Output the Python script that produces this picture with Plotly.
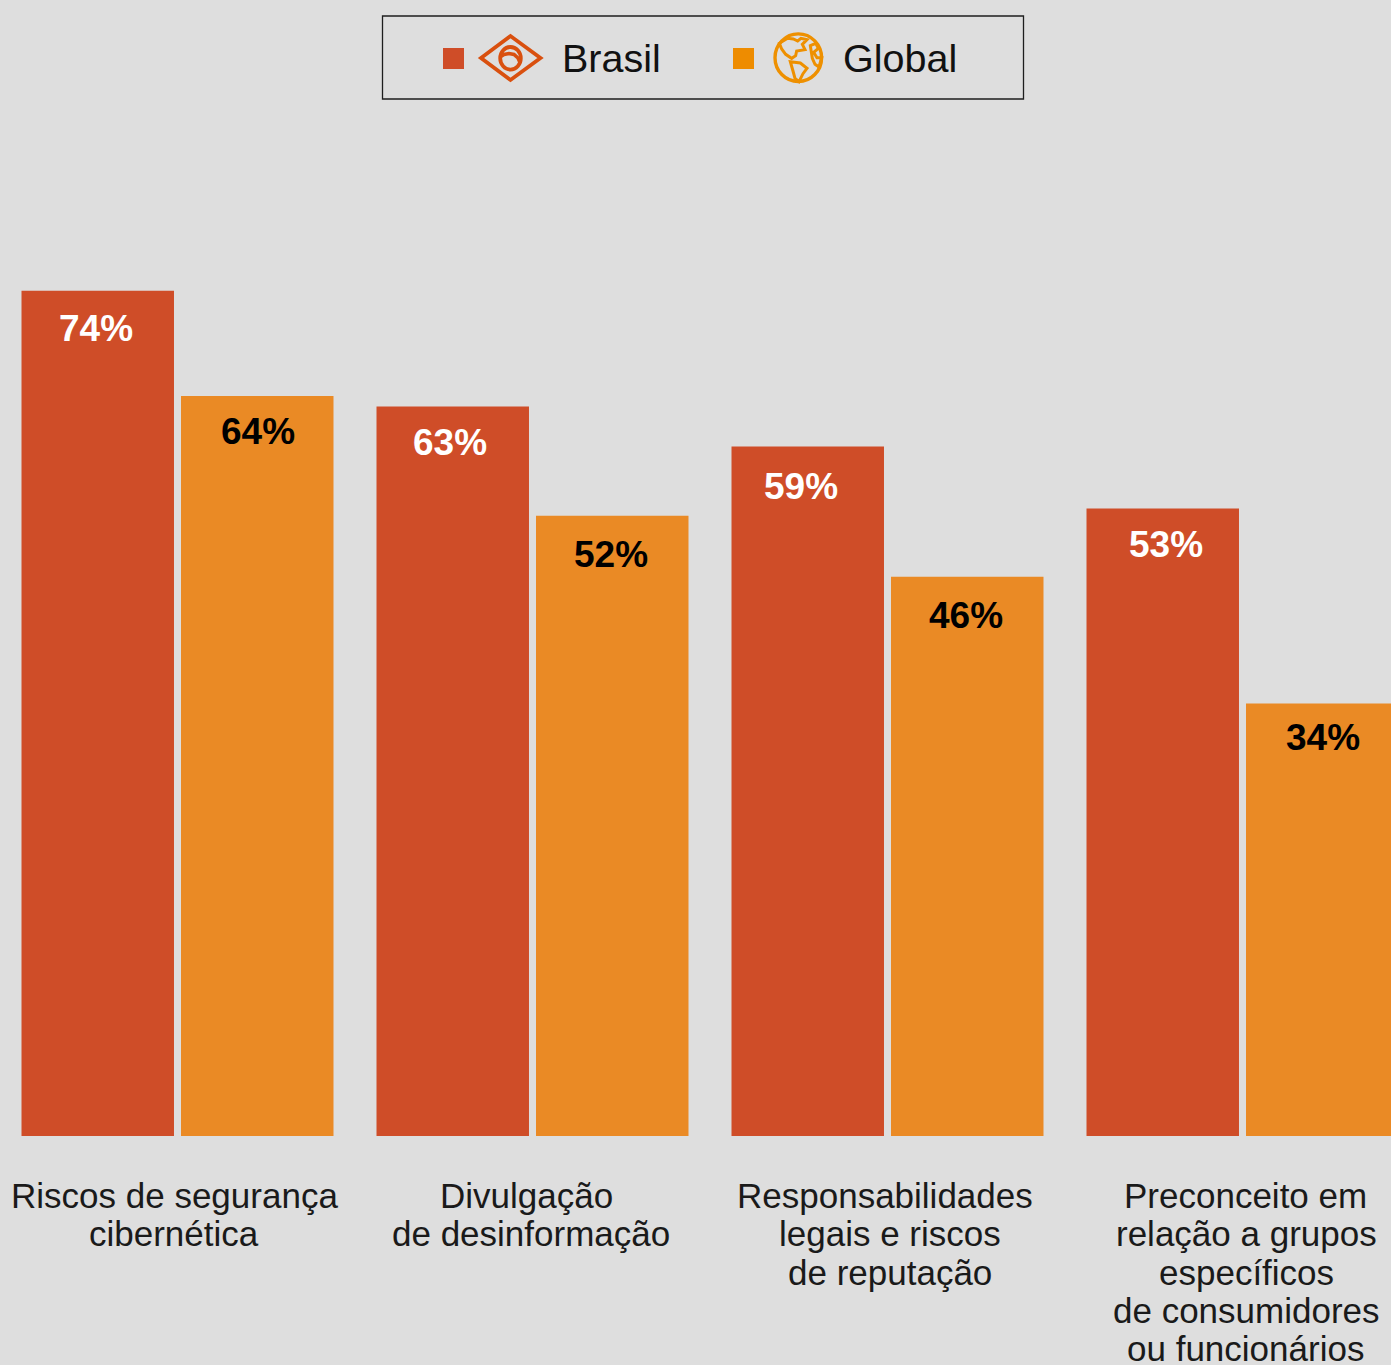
import plotly.graph_objects as go

# ---- data ----
category_lines = [
    ["Riscos de segurança", "cibernética"],
    ["Divulgação", "de desinformação"],
    ["Responsabilidades", "legais e riscos", "de reputação"],
    ["Preconceito em", "relação a grupos", "específicos", "de consumidores", "ou funcionários"],
]
brasil = [74.0, 62.8, 58.9, 52.9]
global_ = [63.8, 52.2, 46.3, 34.0]
series_names = ["Brasil", "Global"]

# ---- style / layout ----
W, H = 1391, 1365
BASE_PX = 1136
AXIS_FLOOR = -7.9          # the source's value axis does not start at zero
PX_PER_PCT = 10.32
TOP_VAL = AXIS_FLOOR + BASE_PX / PX_PER_PCT
BG = "#DEDEDE"
RED, ORANGE = "#CF4D28", "#EA8A25"
FONT = "Liberation Sans"
STEP = 355.0
X0 = 177.5
idx = list(range(len(category_lines)))

def px(x):
    return x / W
def py(y):
    return 1 - y / H

fig = go.Figure()
for vals, col, name in ((brasil, RED, series_names[0]), (global_, ORANGE, series_names[1])):
    fig.add_bar(x=idx, y=[v - AXIS_FLOOR for v in vals], base=[AXIS_FLOOR] * len(vals),
                marker=dict(color=col, line=dict(width=0)), name=name, showlegend=False, hoverinfo="skip")

ann = []
# value labels
nudges_b = [(-2, 38), (-3, 36.5), (-7, 40), (3, 35.5)]
nudges_g = [(1, 35.5), (-1, 39), (-1, 39), (1, 34)]
SLOT = 79.5 / STEP
for i in idx:
    ann.append(dict(x=i - SLOT, y=brasil[i], xref="x", yref="y", text=f"{round(brasil[i])}%", showarrow=False,
                    xshift=nudges_b[i][0], yshift=-nudges_b[i][1], yanchor="middle",
                    font=dict(family=FONT, size=37, color="white", weight="bold")))
    ann.append(dict(x=i + SLOT, y=global_[i], xref="x", yref="y", text=f"{round(global_[i])}%", showarrow=False,
                    xshift=nudges_g[i][0], yshift=-nudges_g[i][1], yanchor="middle",
                    font=dict(family=FONT, size=37, color="black", weight="bold")))
# category labels, one line at a time to hold the source's tight leading
label_dx = [[-3.5, -3.5], [-6, -1.5], [-2.5, 2, 2.5], [3, 3.5, 4, 3.5, 3]]
for i, lines in enumerate(category_lines):
    for k, line in enumerate(lines):
        ann.append(dict(x=i, y=py(1195.5 + 38.3 * k), xref="x", yref="paper", text=line, showarrow=False,
                        xshift=label_dx[i][k], yanchor="middle",
                        font=dict(family=FONT, size=35, color="#1A1A1A")))
# legend text
for name, lx in zip(series_names, (559.5, 840.5)):
    ann.append(dict(x=px(lx), y=py(58), xref="paper", yref="paper", text=name, showarrow=False,
                    xanchor="left", yanchor="middle", font=dict(family=FONT, size=39.5, color="#111111")))

def poly(points, close=True):
    d = "M " + " L ".join(f"{px(x):.5f},{py(y):.5f}" for x, y in points)
    return d + (" Z" if close else "")

def ell(cx, cy, rx, ry):
    return dict(type="circle", xref="paper", yref="paper", x0=px(cx - rx), x1=px(cx + rx),
                y0=py(cy + ry), y1=py(cy - ry))

NOFILL = "rgba(0,0,0,0)"
ICON_R, ICON_O = "#D9500F", "#EE9000"
shapes = [
    dict(type="rect", xref="paper", yref="paper", x0=px(382.5), x1=px(1023.5), y0=py(99), y1=py(16),
         line=dict(color="#1E1E1E", width=1.3), fillcolor=NOFILL),
    dict(type="rect", xref="paper", yref="paper", x0=px(443), x1=px(464), y0=py(69), y1=py(48),
         line=dict(width=0), fillcolor=RED),
    dict(type="rect", xref="paper", yref="paper", x0=px(733), x1=px(754), y0=py(69), y1=py(48),
         line=dict(width=0), fillcolor="#EE8C00"),
    dict(type="path", xref="paper", yref="paper",
         path=poly([(481, 58), (510.5, 36), (540.5, 58), (510.5, 80)]),
         line=dict(color=ICON_R, width=3.8), fillcolor=NOFILL),
    dict(**ell(510.5, 58.3, 10.3, 11.3), line=dict(color=ICON_R, width=3.8), fillcolor=NOFILL),
    dict(type="path", xref="paper", yref="paper",
         path=poly([(500, 57), (504, 54.5), (509, 53.5), (514, 54.5), (518, 58), (520.5, 63.5)], close=False),
         line=dict(color=ICON_R, width=3.6), fillcolor=NOFILL),
    dict(**ell(798.3, 57.7, 23.3, 23.8), line=dict(color=ICON_O, width=3.4), fillcolor=NOFILL),
]
gx, gy = (lambda X: 725 + X / 3), (lambda Y: 25 + Y / 3)
continents = [
    [(163, 55), (170, 72), (182, 88), (200, 100), (212, 92), (215, 78), (240, 74), (232, 58), (246, 44), (228, 40),
     (218, 48), (205, 42), (188, 40)],
    [(196, 110), (226, 114), (246, 130), (234, 146), (222, 170), (210, 160), (204, 138)],
    [(256, 62), (272, 55), (280, 70), (266, 82), (276, 98), (290, 98), (282, 126), (270, 118), (262, 100)],
]
for c in continents:
    shapes.append(dict(type="path", xref="paper", yref="paper",
                       path=poly([(gx(a), gy(b)) for a, b in c]),
                       line=dict(color=ICON_O, width=3), fillcolor=NOFILL))

fig.update_layout(
    width=W, height=H, margin=dict(l=0, r=0, t=0, b=0), autosize=False,
    paper_bgcolor=BG, plot_bgcolor=BG, barmode="group", bargap=36 / STEP, bargroupgap=7 / 159,
    showlegend=False, annotations=ann, shapes=shapes,
    xaxis=dict(range=[(0 - X0) / STEP, (W - X0) / STEP], domain=[0, 1], showgrid=False, zeroline=False,
               showticklabels=False, ticks="", showline=False, fixedrange=True),
    yaxis=dict(range=[AXIS_FLOOR, TOP_VAL], domain=[1 - BASE_PX / H, 1], showgrid=False, zeroline=False,
               showticklabels=False, ticks="", showline=False, fixedrange=True),
)
fig.write_html("out.html", config={"displayModeBar": False},
               post_script="document.body.style.margin='0';document.documentElement.style.overflow='hidden';")
